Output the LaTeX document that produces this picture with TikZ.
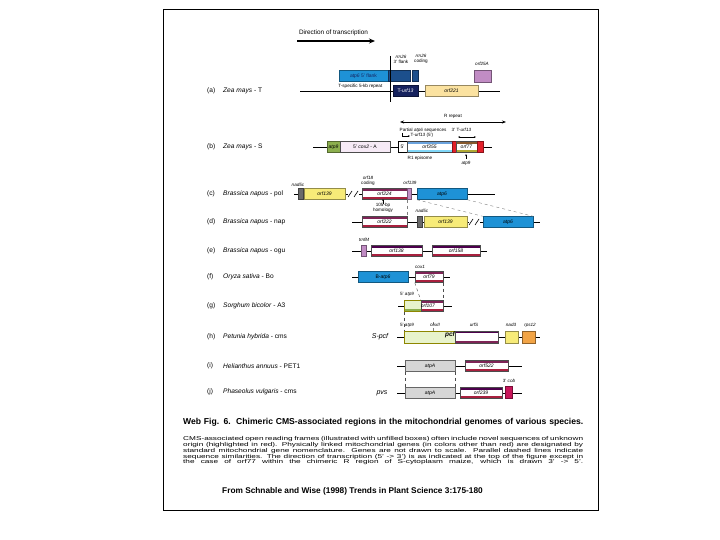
\documentclass[tikz,border=0pt]{standalone}
\usepackage{fontspec}
\setmainfont{Liberation Sans}
\usetikzlibrary{arrows.meta, positioning, calc}
\definecolor{atpblue}{HTML}{1E92D6}
\definecolor{rrnblue}{HTML}{1C4F8C}
\definecolor{navyblue}{HTML}{16225E}
\definecolor{tanyellow}{HTML}{FBE2A0}
\definecolor{orfyellow}{HTML}{F7EB78}
\definecolor{mauve}{HTML}{C18CC4}
\definecolor{maroon}{HTML}{7E2456}
\definecolor{orfred}{HTML}{A8203E}
\definecolor{atpagrey}{HTML}{D6D6D6}
\definecolor{atpgreen}{HTML}{8CAF4E}
\definecolor{palegreen}{HTML}{E8F3CC}
\definecolor{nadgrey}{HTML}{6A6A6A}
\definecolor{brightred}{HTML}{E3202B}
\definecolor{cobred}{HTML}{C8165A}
\definecolor{rpsorange}{HTML}{F2A446}
\definecolor{lavender}{HTML}{F6EAF6}
\newcommand{\genefont}{\fontsize{5}{5.5}\selectfont}
\newcommand{\labfont}{\fontsize{4.6}{5}\selectfont}
\newcommand{\rowfont}{\fontsize{6.6}{7}\selectfont}
\tikzset{
  genebox/.style={
    rectangle, draw=#1!60!black, fill=#1,
    minimum height=11pt, inner sep=0pt, font=\genefont
  },
  orfbox/.style={
    rectangle, draw=black!70, fill=white,
    minimum height=11pt, inner sep=0pt, font=\genefont,
    path picture={
      \fill[maroon] (path picture bounding box.north west)
        rectangle ([yshift=-2.4pt]path picture bounding box.north east);
      \fill[orfred] (path picture bounding box.south west)
        rectangle ([yshift=2.4pt]path picture bounding box.south east);
    }
  },
  backbone/.style={line width=0.9pt},
  rowtag/.style={anchor=west, font=\rowfont, inner sep=0pt},
  genelabel/.style={font=\labfont, align=center, inner sep=0.5pt},
  simdash/.style={dashed, gray, line width=0.4pt},
  brkmark/.style={line width=0.6pt},
}

\begin{document}
\begin{tikzpicture}[x=1pt, y=-1pt]
  \useasboundingbox (0,0) rectangle (720,540);
  \draw[line width=0.8pt] (163,9) rectangle (598,510);

  % direction of transcription
  \node[font=\fontsize{6.4}{7}\selectfont, inner sep=0pt] (dir) at (333.5,33) {Direction of transcription};
  \coordinate (dir-w) at (297,41);
  \coordinate (dir-e) at (375,41);
  \draw[-{Stealth[length=6pt,width=5pt]}, line width=1.5pt] (dir-w) -- (dir-e);

  % row captions
  \foreach \y/\tag/\sp/\cy in {91/a/Zea mays/T, 147/b/Zea mays/S,
      194/c/Brassica napus/pol, 222/d/Brassica napus/nap,
      251/e/Brassica napus/ogu, 277/f/Oryza sativa/Bo,
      306/g/Sorghum bicolor/A3, 337/h/Petunia hybrida/cms,
      366/i/Helianthus annuus/PET1, 392/j/Phaseolus vulgaris/cms}{
    \node[rowtag] (tag-\tag) at (207,\y) {(\tag)};
    \node[rowtag] (name-\tag) at (223,\y) {\textit{\sp} - \cy};
  }

  % (a) Zea mays - T
  \coordinate (a-w) at (300,91);
  \coordinate (a-e) at (500,91);
  \draw[backbone] (a-w) -- (a-e);
  \node[genebox=atpblue, minimum width=49pt, text=navyblue] (a-atp6) at (363.5,76) {\textit{atp6} 5' flank};
  \node[genebox=rrnblue, minimum width=22pt] (a-rrnf) at (399,76) {};
  \node[genebox=rrnblue, minimum width=6pt] (a-rrnc) at (415,76) {};
  \node[genelabel] (a-lf) at (401,59) {\textit{rrn26}\\3' flank};
  \node[genelabel] (a-lc) at (421,59) {\textit{rrn26}\\coding};
  \coordinate (a-vt) at (390,56);
  \coordinate (a-vb) at (390,102);
  \draw[line width=0.4pt] (a-vt) -- (a-vb);
  \node[genelabel, anchor=east] (a-rep) at (383,86) {T-specific 5-kb repeat};
  \node[genebox=navyblue, minimum width=25pt, text=white] (a-urf) at (405.5,91) {T-\textit{urf13}};
  \node[genebox=tanyellow, minimum width=53pt] (a-orf) at (451.5,91) {\textit{orf221}};
  \node[genebox=mauve, minimum width=17pt, minimum height=12pt] (a-cox) at (482.5,76) {};
  \node[genelabel] (a-lcox) at (482,64) {\textit{orf25A}};

  % (b) Zea mays - S
  \coordinate (b-w) at (313,147);
  \coordinate (b-e) at (492,147);
  \draw[backbone] (b-w) -- (b-e);
  \node[genebox=atpgreen, minimum width=13pt] (b-atp9) at (333.5,147) {\textit{atp9}};
  \node[genebox=lavender, draw=black!70, minimum width=50pt] (b-cox) at (365,147) {5' \textit{cox2} - A};
  \node[rectangle, draw, line width=1pt, fill=white, minimum width=9pt, minimum height=11pt,
        inner sep=0pt, font=\genefont] (b-r1) at (402.5,147) {5'};
  \node[orfbox, minimum width=45pt,
        path picture={\fill[cyan!60!blue!60] (path picture bounding box.north west)
          rectangle ([yshift=-2.4pt]path picture bounding box.north east);
          \fill[cyan!50] (path picture bounding box.south west)
          rectangle ([yshift=2.4pt]path picture bounding box.south east);}] (b-orf355) at (429.5,147) {\textit{orf355}};
  \node[genebox=brightred, minimum width=4pt] (b-red1) at (454,147) {};
  \node[orfbox, minimum width=21pt,
        path picture={\fill[brown!70!black] (path picture bounding box.north west)
          rectangle ([yshift=-2.4pt]path picture bounding box.north east);
          \fill[olive!70] (path picture bounding box.south west)
          rectangle ([yshift=2.4pt]path picture bounding box.south east);}] (b-orf77) at (466.5,147) {\textit{orf77}};
  \node[genebox=brightred, minimum width=6pt] (b-red2) at (480,147) {};
  \coordinate (b-rw) at (400,122);
  \coordinate (b-re) at (506,122);
  \draw[{Stealth[length=4pt]}-{Stealth[length=4pt]}, line width=0.8pt] (b-rw) -- (b-re);
  \node[genelabel] (b-rep) at (453,116) {R repeat};
  \node[genelabel, anchor=west] (b-part) at (399,130) {Partial \textit{atp6} sequences};
  \node[genelabel, anchor=west] (b-3t) at (451,130) {3' T-\textit{urf13}};
  \coordinate (b-pa) at (402,133);
  \coordinate (b-pb) at (410,136);
  \draw[-{Stealth[length=2pt]}, line width=0.3pt] (b-pa) |- (b-pb);
  \node[genelabel, anchor=west] (b-part2) at (410,135.5) {T-\textit{urf13} (5')};
  \coordinate (b-bl) at (458,137);
  \coordinate (b-br) at (476,137);
  \draw[{Stealth[length=2pt]}-{Stealth[length=2pt]}, line width=0.3pt] (b-bl) -- (b-br);
  \node[genelabel] (b-ep) at (420,158) {R1 episome};
  \node[genelabel] (b-a9) at (466,163) {\textit{atp9}};
  \coordinate (b-ab) at (466,159);
  \coordinate (b-at) at (466,154);
  \draw[-{Stealth[length=2pt]}, line width=0.3pt] (b-ab) -- (b-at);

  % (c) Brassica napus - pol
  \coordinate (c-w) at (294,194);
  \coordinate (c-e) at (495,194);
  \draw[backbone] (c-w) -- (c-e);
  \node[genebox=nadgrey, minimum width=5pt] (c-nad) at (300.5,194) {};
  \node[genelabel] (c-lnad) at (298,185) {\textit{nad5c}};
  \node[genebox=orfyellow, minimum width=41pt] (c-orf139) at (324.5,194) {\textit{orf139}};
  \fill[white] (348,190) rectangle (359,198);
  \draw[brkmark] (348,197) -- (352,191) (354,197) -- (358,191);
  \node[orfbox, minimum width=45pt] (c-orf224) at (384.5,194) {\textit{orf224}};
  \node[genebox=mauve, minimum width=4pt] (c-atp8) at (409.5,194) {};
  \node[genebox=atpblue, minimum width=50pt] (c-atp6) at (442,194) {\textit{atp6}};
  \node[genelabel] (c-lcod) at (368,181) {\textit{orf18}\\coding};
  \node[genelabel] (c-ltrn) at (410,183) {\textit{orf139}};

  % (d) Brassica napus - nap
  \coordinate (d-w) at (352,222);
  \coordinate (d-e) at (540,222);
  \draw[backbone] (d-w) -- (d-e);
  \node[orfbox, minimum width=45pt] (d-orf222) at (384.5,222) {\textit{orf222}};
  \node[genebox=nadgrey, minimum width=5pt] (d-nad) at (420,222) {};
  \node[genelabel] (d-lnad) at (422,211) {\textit{nad5c}};
  \node[genebox=orfyellow, minimum width=43pt] (d-orf139) at (445.5,222) {\textit{orf139}};
  \fill[white] (469,218) rectangle (480,226);
  \draw[brkmark] (469,225) -- (473,219) (475,225) -- (479,219);
  \node[genebox=atpblue, minimum width=50pt] (d-atp6) at (508,222) {\textit{atp6}};
  \node[genelabel] (d-hom) at (383,208) {105-bp\\homology};
  \coordinate (d-hb) at (383,204);
  \coordinate (d-ht) at (383,199);
  \draw[-{Stealth[length=2pt]}, line width=0.4pt] (d-hb) -- (d-ht);
  \draw[simdash] (c-orf224.south east) -- (d-orf222.north east);
  \draw[simdash] (c-atp6.south west) -- (d-atp6.north west);
  \draw[simdash] (c-atp6.south east) -- (d-atp6.north east);

  % (e) Brassica napus - ogu
  \coordinate (e-w) at (352,251);
  \coordinate (e-e) at (487,251);
  \draw[backbone] (e-w) -- (e-e);
  \node[genebox=mauve, minimum width=5pt] (e-trn) at (364,251) {};
  \node[genelabel] (e-ltrn) at (364,240) {\textit{trnfM}};
  \node[orfbox, minimum width=51pt,
        path picture={\fill[violet!60!black] (path picture bounding box.north west)
          rectangle ([yshift=-2.4pt]path picture bounding box.north east);
          \fill[orfred] (path picture bounding box.south west)
          rectangle ([yshift=2.4pt]path picture bounding box.south east);}] (e-orf138) at (396.5,251) {\textit{orf138}};
  \node[orfbox, minimum width=48pt,
        path picture={\fill[violet!60!black] (path picture bounding box.north west)
          rectangle ([yshift=-2.4pt]path picture bounding box.north east);
          \fill[orfred] (path picture bounding box.south west)
          rectangle ([yshift=2.4pt]path picture bounding box.south east);}] (e-orf158) at (456,251) {\textit{orf158}};

  % (f) Oryza sativa - Bo
  \coordinate (f-w) at (352,277);
  \coordinate (f-e) at (450,277);
  \draw[backbone] (f-w) -- (f-e);
  \node[genebox=atpblue, minimum width=50pt] (f-atp6) at (383,277) {B-\textit{atp6}};
  \node[orfbox, minimum width=28pt] (f-orf79) at (429,277) {\textit{orf79}};
  \node[genelabel] (f-lcox) at (420,267) {\textit{cox1}};

  % (g) Sorghum bicolor - A3
  \coordinate (g-w) at (398,306);
  \coordinate (g-e) at (452,306);
  \draw[backbone] (g-w) -- (g-e);
  \node[genebox=palegreen, draw=olive, minimum width=17pt,
        path picture={\fill[atpgreen] (path picture bounding box.south west)
          rectangle ([yshift=2.4pt]path picture bounding box.south east);}] (g-atp9) at (412.5,306) {};
  \node[orfbox, minimum width=22pt] (g-orf107) at (432,306) {};
  \node[font=\genefont] (g-lorf) at (428,306) {\textit{orf107}};
  \node[genelabel] (g-l9) at (407,294) {5' \textit{atp9}};
  \draw[simdash, black!70] (f-orf79.south west) -- (g-orf107.north west);
  \draw[simdash, black!70] (f-orf79.south east) -- (g-orf107.north east);

  % (h) Petunia hybrida - cms
  \coordinate (h-w) at (397,337);
  \coordinate (h-e) at (540,337);
  \draw[backbone] (h-w) -- (h-e);
  \node[font=\fontsize{7}{7}\selectfont\itshape, inner sep=0pt] (h-spcf) at (380,337) {S-\textit{pcf}};
  \node[genebox=palegreen, draw=olive, minimum width=51pt, minimum height=12pt] (h-green) at (429.5,337) {};
  \node[orfbox, minimum width=43pt, minimum height=12pt,
        path picture={\fill[violet!60!black] (path picture bounding box.north west)
          rectangle ([yshift=-2.4pt]path picture bounding box.north east);
          \fill[maroon] (path picture bounding box.south west)
          rectangle ([yshift=2.4pt]path picture bounding box.south east);}] (h-urfs) at (476.5,337) {};
  \node[font=\fontsize{6.5}{7}\selectfont\itshape\bfseries, inner sep=0pt] (h-pcf) at (450,335) {pcf};
  \draw[simdash, black!50] (h-green.north) ++(4pt,0) -- ++(0,12pt);
  \node[genebox=orfyellow, minimum width=13pt, minimum height=12pt] (h-nad3) at (511.5,337) {};
  \node[genebox=rpsorange, minimum width=13pt, minimum height=12pt] (h-rps) at (528.5,337) {};
  \node[genelabel] (h-l9) at (407,325) {5' \textit{atp9}};
  \node[genelabel] (h-lcox) at (435,325) {\textit{coxII}};
  \node[genelabel] (h-lurf) at (474,325) {\textit{urfS}};
  \node[genelabel] (h-lnad) at (511,325) {\textit{nad3}};
  \node[genelabel] (h-lrps) at (530,325) {\textit{rps12}};
  \draw[simdash, black!70] (g-atp9.south west) -- (h-green.north west);

  % (i) Helianthus annuus - PET1
  \coordinate (i-w) at (397,366);
  \coordinate (i-e) at (522,366);
  \draw[backbone] (i-w) -- (i-e);
  \node[genebox=atpagrey, draw=black!60, minimum width=50pt] (i-atpA) at (430,366) {\textit{atpA}};
  \node[orfbox, minimum width=43pt] (i-orf522) at (486.5,366) {\textit{orf522}};

  % (j) Phaseolus vulgaris - cms
  \coordinate (j-w) at (397,393);
  \coordinate (j-e) at (522,393);
  \draw[backbone] (j-w) -- (j-e);
  \node[font=\fontsize{7}{7}\selectfont\itshape, inner sep=0pt] (j-pvs) at (382,393) {pvs};
  \node[genebox=atpagrey, draw=black!60, minimum width=50pt] (j-atpA) at (430,393) {\textit{atpA}};
  \node[orfbox, minimum width=42pt,
        path picture={\fill[violet!60!black] (path picture bounding box.north west)
          rectangle ([yshift=-2.4pt]path picture bounding box.north east);
          \fill[orfred] (path picture bounding box.south west)
          rectangle ([yshift=2.4pt]path picture bounding box.south east);}] (j-orf239) at (481,393) {\textit{orf239}};
  \node[genebox=cobred, minimum width=7pt, minimum height=12pt] (j-cob) at (508.5,392) {};
  \node[genelabel] (j-lcob) at (509,381) {3' \textit{cob}};
  \draw[simdash, black!70] (i-atpA.south west) -- (j-atpA.north west);
  \draw[simdash, black!70] (i-atpA.south east) -- (j-atpA.north east);

  % caption
  \node[anchor=west, inner sep=0pt, font=\fontsize{8.6}{9}\selectfont\bfseries] (cap) at (183,422)
    {\makebox[400pt][s]{Web Fig. 6.\ \ Chimeric CMS-associated regions in the mitochondrial genomes of various species.}};
  \foreach \y/\ln in {
      439/{CMS-associated open reading frames (illustrated with unfilled boxes) often include novel sequences of unknown},
      445/{origin (highlighted in red). Physically linked mitochondrial genes (in colors other than red) are designated by},
      451/{standard mitochondrial gene nomenclature. Genes are not drawn to scale. Parallel dashed lines indicate},
      457/{sequence similarities. The direction of transcription (5' -> 3') is as indicated at the top of the figure except in},
      462.5/{the case of orf77 within the chimeric R region of S-cytoplasm maize, which is drawn 3' -> 5'.}}{
    \node[anchor=west, inner sep=0pt, font=\fontsize{6.6}{7}\selectfont] at (183,\y)
      {\scalebox{1.25}[0.85]{\makebox[320pt][s]{\ln}}};
  }
  \node[anchor=west, inner sep=0pt, font=\fontsize{8.3}{9}\selectfont\bfseries] (src) at (222,491)
    {From Schnable and Wise (1998) Trends in Plant Science 3:175-180};
\end{tikzpicture}
\end{document}
